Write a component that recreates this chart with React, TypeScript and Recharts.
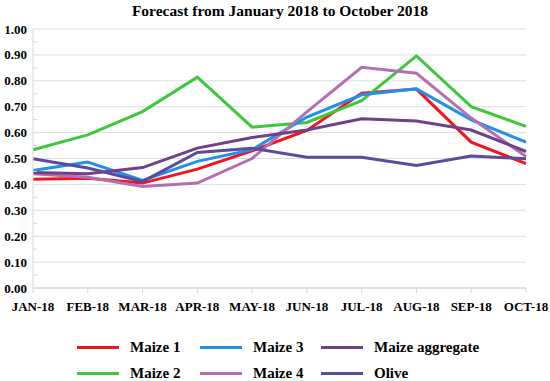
import { LineChart, Line, XAxis, YAxis, CartesianGrid } from "recharts";

const months = ["JAN-18", "FEB-18", "MAR-18", "APR-18", "MAY-18", "JUN-18", "JUL-18", "AUG-18", "SEP-18", "OCT-18"];
const maize1 = [0.42, 0.424, 0.405, 0.459, 0.53, 0.608, 0.752, 0.768, 0.563, 0.48];
const maize2 = [0.534, 0.591, 0.681, 0.814, 0.621, 0.639, 0.723, 0.896, 0.7, 0.624];
const maize3 = [0.454, 0.486, 0.415, 0.489, 0.534, 0.66, 0.746, 0.769, 0.649, 0.563];
const maize4 = [0.441, 0.428, 0.392, 0.405, 0.5, 0.68, 0.852, 0.829, 0.656, 0.508];
const maizeAgg = [0.446, 0.441, 0.465, 0.54, 0.581, 0.61, 0.653, 0.645, 0.61, 0.527];
const olive = [0.499, 0.463, 0.411, 0.523, 0.54, 0.505, 0.505, 0.473, 0.51, 0.499];
const yMajor = [0, 0.1, 0.2, 0.3, 0.4, 0.5, 0.6, 0.7, 0.8, 0.9, 1.0];
const yAll = [0, 0.05, 0.1, 0.15, 0.2, 0.25, 0.3, 0.35, 0.4, 0.45, 0.5, 0.55, 0.6, 0.65, 0.7, 0.75, 0.8, 0.85, 0.9, 0.95, 1.0];

const series = [
  { key: "m1", name: "Maize 1", color: "#f5141c", values: maize1 },
  { key: "m2", name: "Maize 2", color: "#3cc73c", values: maize2 },
  { key: "m3", name: "Maize 3", color: "#1f8ff0", values: maize3 },
  { key: "m4", name: "Maize 4", color: "#b46fb0", values: maize4 },
  { key: "agg", name: "Maize aggregate", color: "#6e4189", values: maizeAgg },
  { key: "olive", name: "Olive", color: "#5a4b9e", values: olive },
];

const data = months.map((m, i) => {
  const row: Record<string, string | number> = { name: m };
  series.forEach((s) => (row[s.key] = s.values[i]));
  return row;
});

const font = "'Liberation Serif', 'DejaVu Serif', serif";
const axisGrey = "#d6d6d6";

// labels on the tenths, a short inward mark on the halves
const YTick = (props: any) => {
  const { x, y, payload } = props;
  const v = payload.value as number;
  const major = yMajor.some((t) => Math.abs(t - v) < 1e-6);
  if (!major) {
    return <line x1={33} x2={37} y1={y} y2={y} stroke={axisGrey} />;
  }
  return (
    <text x={x} y={y} dy={4.5} textAnchor="end" fill="#000" fontSize={13} fontWeight="bold" fontFamily={font}>
      {v.toFixed(2)}
    </text>
  );
};

// legend laid out like the original: two rows, filled column by column
const legendCols = [
  { x: 77, items: [series[0], series[1]] },
  { x: 200, items: [series[2], series[3]] },
  { x: 321, items: [series[4], series[5]] },
];

export default function App() {
  return (
    <div style={{ position: "absolute", left: 0, top: 0, width: 550, height: 381, background: "#fff", fontFamily: font }}>
      <div style={{ position: "absolute", top: 2, left: 0, width: 560, textAlign: "center", fontWeight: "bold", fontSize: 15.5, color: "#000" }}>
        Forecast from January 2018 to October 2018
      </div>
      <LineChart width={550} height={330} data={data} margin={{ top: 29, right: 24, bottom: 8, left: 0 }}>
        <CartesianGrid vertical={false} stroke="#dedede" horizontalValues={yMajor} />
        <XAxis
          dataKey="name"
          height={34}
          stroke={axisGrey}
          tickSize={5}
          tickMargin={9}
          tick={{ fill: "#000", fontSize: 13, fontWeight: "bold", fontFamily: font }}
          interval={0}
        />
        <YAxis
          domain={[0, 1]}
          ticks={yAll}
          interval={0}
          width={33}
          stroke={axisGrey}
          tickLine={false}
          tickSize={0}
          tickMargin={6}
          tick={<YTick />}
        />
        {series.map((s) => (
          <Line
            key={s.key}
            type="linear"
            dataKey={s.key}
            name={s.name}
            stroke={s.color}
            strokeWidth={3}
            dot={false}
            isAnimationActive={false}
          />
        ))}
      </LineChart>
      {legendCols.map((col) =>
        col.items.map((s, r) => (
          <div key={s.key} style={{ position: "absolute", left: col.x, top: 337 + r * 26, height: 20, display: "flex", alignItems: "center" }}>
            <div style={{ width: 42, height: 3, background: s.color, marginRight: 11 }} />
            <span style={{ fontWeight: "bold", fontSize: 15, color: "#000" }}>{s.name}</span>
          </div>
        ))
      )}
    </div>
  );
}
